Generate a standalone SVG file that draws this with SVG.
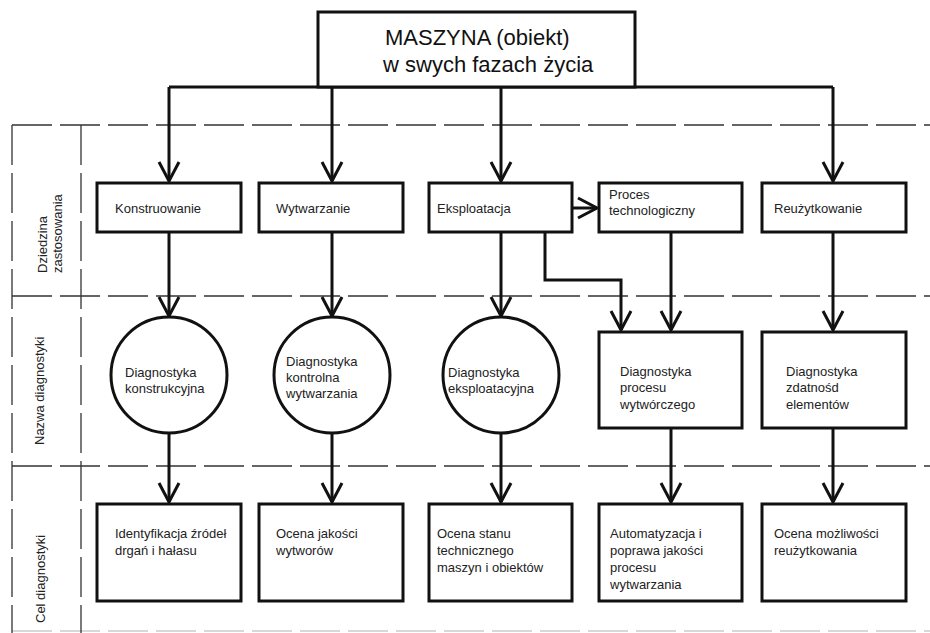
<svg xmlns="http://www.w3.org/2000/svg" width="930" height="633" viewBox="0 0 930 633">
<style>
.box{fill:#fff;stroke:#111;stroke-width:3}
.grid{fill:none;stroke:#333;stroke-width:1.3;stroke-dasharray:40 8}
.con{fill:none;stroke:#111;stroke-width:3;marker-end:url(#arr)}
.lin{fill:none;stroke:#111;stroke-width:3}
.t{font-family:"Liberation Sans",Arial,sans-serif;font-size:13px;fill:#222}
.big{font-family:"Liberation Sans",Arial,sans-serif;font-size:22px;fill:#111}
</style>
<defs>
<marker id="arr" markerUnits="userSpaceOnUse" markerWidth="30" markerHeight="30" refX="0" refY="0" orient="auto" overflow="visible">
<path d="M-19,-10 L0,0 L-19,10" fill="none" stroke="#111" stroke-width="3" stroke-linejoin="miter"/>
</marker>
</defs>
<rect width="930" height="633" fill="#fff"/>
<g id="grid">
<line class="grid" x1="12" y1="125" x2="930" y2="125"/>
<line class="grid" x1="12" y1="296" x2="930" y2="296"/>
<line class="grid" x1="12" y1="466" x2="930" y2="466"/>
<line class="grid" x1="12" y1="631" x2="930" y2="631" style="stroke:#ccc"/>
<line class="grid" x1="12" y1="125" x2="12" y2="633"/>
<line class="grid" x1="81" y1="125" x2="81" y2="633"/>
<text class="t" transform="translate(47,273) rotate(-90)">Dziedzina</text>
<text class="t" transform="translate(62,273) rotate(-90)">zastosowania</text>
<text class="t" transform="translate(44,445) rotate(-90)">Nazwa diagnostyki</text>
<text class="t" transform="translate(45,623) rotate(-90)">Cel diagnostyki</text>
</g>
<g id="connectors">
<line class="lin" x1="169" y1="87" x2="833" y2="87"/>
<line class="con" x1="169" y1="87" x2="169" y2="181"/>
<line class="con" x1="332" y1="87" x2="332" y2="181"/>
<line class="con" x1="501" y1="87" x2="501" y2="181"/>
<line class="con" x1="833" y1="87" x2="833" y2="181"/>
<line class="con" x1="572" y1="208" x2="597" y2="208"/>
<line class="con" x1="169" y1="232" x2="169" y2="316"/>
<line class="con" x1="332" y1="232" x2="332" y2="316"/>
<line class="con" x1="501" y1="232" x2="501" y2="316"/>
<path class="con" d="M545,232 V280 H621 V330"/>
<line class="con" x1="671" y1="232" x2="671" y2="330"/>
<line class="con" x1="833" y1="232" x2="833" y2="330"/>
<line class="con" x1="169" y1="433" x2="169" y2="502"/>
<line class="con" x1="332" y1="433" x2="332" y2="502"/>
<line class="con" x1="501" y1="433" x2="501" y2="502"/>
<line class="con" x1="671" y1="428" x2="671" y2="502"/>
<line class="con" x1="833" y1="428" x2="833" y2="502"/>
</g>
<g id="maszyna">
<rect class="box" x="318" y="12" width="317" height="75"/>
<text class="big" x="385" y="45">MASZYNA (obiekt)</text>
<text class="big" x="383" y="72">w swych fazach życia</text>
</g>
<g id="konstruowanie"><rect class="box" x="97" y="183" width="144" height="49"/><text class="t" x="115" y="213">Konstruowanie</text></g>
<g id="wytwarzanie"><rect class="box" x="259" y="183" width="144" height="49"/><text class="t" x="276" y="213">Wytwarzanie</text></g>
<g id="eksploatacja"><rect class="box" x="429" y="183" width="143" height="49"/><text class="t" x="437" y="213">Eksploatacja</text></g>
<g id="proces"><rect class="box" x="599" y="183" width="143" height="49"/><text class="t" x="609" y="199">Proces</text><text class="t" x="609" y="215">technologiczny</text></g>
<g id="reuzytkowanie"><rect class="box" x="762" y="183" width="144" height="49"/><text class="t" x="774" y="213">Reużytkowanie</text></g>
<g id="diag-konstr"><circle class="box" cx="169" cy="375" r="58"/><text class="t" x="125" y="377">Diagnostyka</text><text class="t" x="125" y="393">konstrukcyjna</text></g>
<g id="diag-kontr"><circle class="box" cx="332" cy="375" r="58"/><text class="t" x="286" y="366">Diagnostyka</text><text class="t" x="286" y="382">kontrolna</text><text class="t" x="286" y="398">wytwarzania</text></g>
<g id="diag-eksp"><circle class="box" cx="501" cy="375" r="58"/><text class="t" x="448" y="377">Diagnostyka</text><text class="t" x="448" y="393">eksploatacyjna</text></g>
<g id="diag-proc"><rect class="box" x="599" y="332" width="143" height="96"/><text class="t" x="620" y="376">Diagnostyka</text><text class="t" x="620" y="392">procesu</text><text class="t" x="620" y="409">wytwórczego</text></g>
<g id="diag-zdat"><rect class="box" x="762" y="332" width="144" height="96"/><text class="t" x="786" y="376">Diagnostyka</text><text class="t" x="786" y="392">zdatnośd</text><text class="t" x="786" y="409">elementów</text></g>
<g id="cel-ident"><rect class="box" x="97" y="504" width="144" height="97"/><text class="t" x="115" y="538">Identyfikacja źródeł</text><text class="t" x="115" y="555">drgań i hałasu</text></g>
<g id="cel-ocena"><rect class="box" x="259" y="504" width="144" height="97"/><text class="t" x="276" y="538">Ocena jakości</text><text class="t" x="276" y="555">wytworów</text></g>
<g id="cel-stan"><rect class="box" x="429" y="504" width="143" height="97"/><text class="t" x="437" y="538">Ocena stanu</text><text class="t" x="437" y="555">technicznego</text><text class="t" x="437" y="572">maszyn i obiektów</text></g>
<g id="cel-auto"><rect class="box" x="599" y="504" width="143" height="97"/><text class="t" x="610" y="538">Automatyzacja i</text><text class="t" x="610" y="555">poprawa jakości</text><text class="t" x="610" y="572">procesu</text><text class="t" x="610" y="589">wytwarzania</text></g>
<g id="cel-reuz"><rect class="box" x="762" y="504" width="144" height="97"/><text class="t" x="774" y="538">Ocena możliwości</text><text class="t" x="774" y="555">reużytkowania</text></g>
</svg>
